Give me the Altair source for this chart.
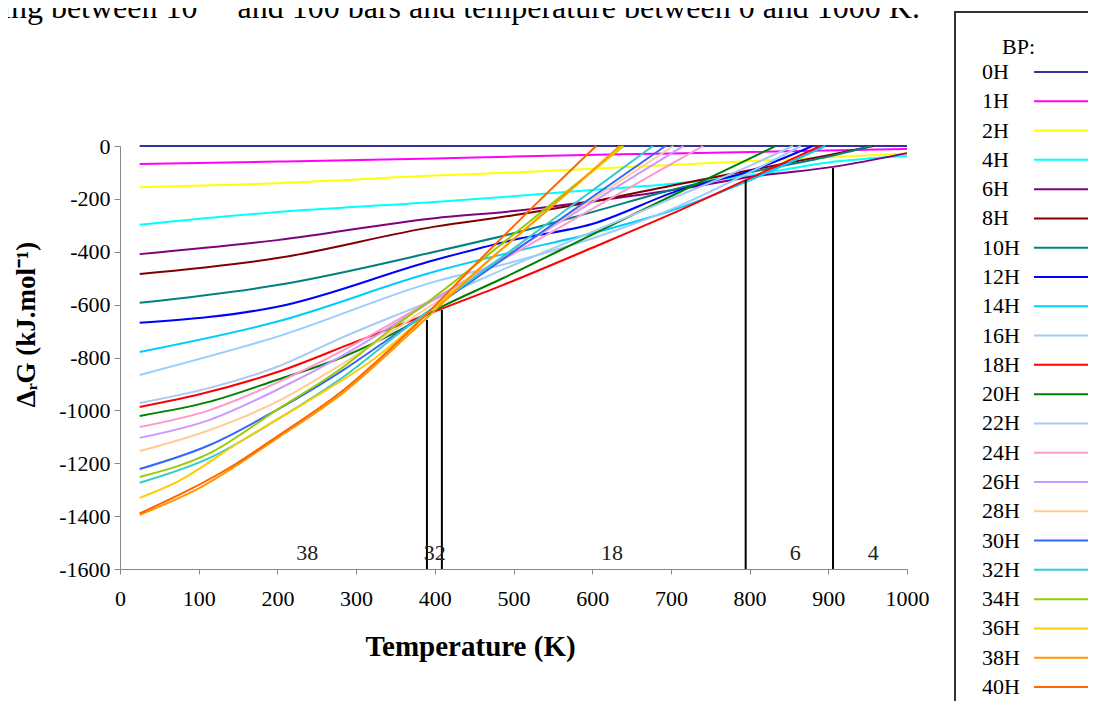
import altair as alt
import pandas as pd

# ---------------- data ----------------
SERIES = ["0H", "1H", "2H", "4H", "6H", "8H", "10H", "12H", "14H", "16H", "18H",
          "20H", "22H", "24H", "26H", "28H", "30H", "32H", "34H", "36H", "38H", "40H"]
COLORS = ["#333399", "#FF00FF", "#FFFF00", "#00FFFF", "#800080", "#800000", "#008080",
          "#0000FF", "#00CCFF", "#99CCFF", "#FF0000", "#008000", "#A6CAF0", "#FF99CC",
          "#CC99FF", "#FFCC99", "#3366FF", "#33CCCC", "#99CC00", "#FFCC00", "#FF9900", "#FF6600"]

T_0H = [25, 1000]
G_0H = [0, 0]
T_1H = [25, 200, 400, 500, 700, 1000]
G_1H = [-68, -59, -47, -40, -28, -11]
T_2H = [25, 200, 400, 500, 700, 850, 1000]
G_2H = [-156, -141, -112, -100, -72, -50, -28]
T_4H = [25, 200, 400, 500, 600, 700, 800, 900, 1000]
G_4H = [-298, -250, -212, -190, -166, -144, -112, -62, -38]
T_6H = [25, 200, 400, 500, 610, 737, 800, 906, 1000]
G_6H = [-409, -356, -273, -246, -205, -150, -117, -79, -27]
T_8H = [25, 200, 400, 500, 610, 700, 800, 900, 957]
G_8H = [-484, -424, -305, -262, -205, -150, -92, -35, 0]
T_10H = [25, 200, 400, 500, 600, 712, 800, 900, 955]
G_10H = [-593, -526, -400, -330, -250, -158, -100, -40, 0]
T_12H = [25, 200, 400, 500, 600, 712, 800, 880]
G_12H = [-669, -608, -431, -355, -295, -166, -95, 0]
T_14H = [25, 200, 400, 500, 600, 700, 800, 896]
G_14H = [-779, -664, -475, -400, -330, -245, -130, 0]
T_16H = [25, 200, 400, 500, 600, 700, 800, 865]
G_16H = [-866, -721, -513, -438, -350, -240, -100, 0]
T_18H = [25, 100, 200, 300, 411, 483, 600, 700, 795, 890]
G_18H = [-987, -940, -855, -740, -613, -530, -385, -258, -129, 0]
T_20H = [25, 114, 199, 284, 350, 411, 483, 600, 700, 800, 833]
G_20H = [-1021, -967, -885, -797, -705, -605, -505, -335, -190, -48, 0]
T_22H = [25, 114, 199, 284, 400, 500, 600, 700, 800, 855]
G_22H = [-972, -915, -836, -722, -580, -450, -325, -200, -75, 0]
T_24H = [25, 114, 199, 284, 400, 500, 600, 700, 741]
G_24H = [-1063, -999, -896, -772, -576, -407, -238, -69, 0]
T_26H = [25, 114, 199, 284, 400, 500, 600, 716]
G_26H = [-1104, -1036, -923, -791, -579, -396, -212, 0]
T_28H = [25, 114, 199, 284, 400, 500, 600, 703]
G_28H = [-1154, -1074, -968, -821, -594, -398, -202, 0]
T_30H = [25, 114, 199, 284, 334, 400, 500, 600, 693]
G_30H = [-1222, -1131, -999, -847, -745, -608, -400, -193, 0]
T_32H = [25, 114, 199, 284, 360, 400, 500, 600, 677]
G_32H = [-1274, -1180, -1036, -873, -696, -608, -388, -169, 0]
T_34H = [25, 114, 199, 284, 343, 400, 500, 600, 640]
G_34H = [-1252, -1162, -999, -835, -696, -570, -335, -95, 0]
T_36H = [25, 72, 156, 241, 326, 400, 500, 600, 638]
G_36H = [-1331, -1271, -1112, -961, -798, -609, -353, -97, 0]
T_38H = [25, 100, 200, 285, 370, 460, 550, 635]
G_38H = [-1395, -1295, -1105, -930, -705, -455, -225, 0]
T_40H = [25, 149, 199, 284, 369, 457, 530, 605]
G_40H = [-1390, -1199, -1100, -923, -696, -431, -215, 0]

SERIES_T = [T_0H, T_1H, T_2H, T_4H, T_6H, T_8H, T_10H, T_12H, T_14H, T_16H, T_18H,
            T_20H, T_22H, T_24H, T_26H, T_28H, T_30H, T_32H, T_34H, T_36H, T_38H, T_40H]
SERIES_G = [G_0H, G_1H, G_2H, G_4H, G_6H, G_8H, G_10H, G_12H, G_14H, G_16H, G_18H,
            G_20H, G_22H, G_24H, G_26H, G_28H, G_30H, G_32H, G_34H, G_36H, G_38H, G_40H]

BOUND_T = [390, 409, 795, 906]
BOUND_TOP = [-658, -620, -129, -83]
BOUND_BOTTOM = -1600

REGION_LABELS = ["38", "32", "18", "6", "4"]
REGION_T = [238, 400, 625, 858, 957]
REGION_G = -1540

X_TICKS = [0, 100, 200, 300, 400, 500, 600, 700, 800, 900, 1000]
Y_TICKS = [0, -200, -400, -600, -800, -1000, -1200, -1400, -1600]

TOP_TEXT = "ing between 10\u00a0\u00a0\u00a0\u00a0\u00a0and 100 bars and temperature between 0 and 1000 K."
LEGEND_TITLE = "BP:"

# ---------------- tables ----------------
rows = []
for k, (name, ts, gs) in enumerate(zip(SERIES, SERIES_T, SERIES_G)):
    for i, (t, g) in enumerate(zip(ts, gs)):
        rows.append({"series": name, "T": t, "G": g, "order": i, "k": k})
lines_df = pd.DataFrame(rows)

bounds_df = pd.DataFrame({"T": BOUND_T, "G": BOUND_TOP, "G2": [BOUND_BOTTOM] * len(BOUND_T)})
regions_df = pd.DataFrame({"T": REGION_T, "G": [REGION_G] * len(REGION_T), "label": REGION_LABELS})
legend_df = pd.DataFrame({"series": SERIES})

FONT = "Liberation Serif"

color = alt.Color("series:N", scale=alt.Scale(domain=SERIES, range=COLORS), legend=None)

x_enc = alt.X("T:Q", scale=alt.Scale(domain=[0, 1000], nice=False, zero=False),
              axis=alt.Axis(values=X_TICKS, title="Temperature (K)", grid=False,
                            tickSize=5, labelPadding=14, labelFontSize=22, labelFont=FONT,
                            labelColor="black", domainColor="#888888", tickColor="#888888",
                            labelExpr="'' + datum.value",
                            titleFont=FONT, titleFontSize=29, titleFontWeight="bold",
                            titleColor="black", titleX=350, titleY=77, titleBaseline="middle",
                            labelFlush=False))
y_enc = alt.Y("G:Q", scale=alt.Scale(domain=[-1600, 0], nice=False, zero=False),
              axis=alt.Axis(values=Y_TICKS, title="ΔᵣG (kJ.mol⁻¹)", grid=False,
                            tickSize=6, labelPadding=4, labelFontSize=22, labelFont=FONT,
                            labelColor="black", domainColor="#888888", tickColor="#888888",
                            labelExpr="'' + datum.value",
                            titleFont=FONT, titleFontSize=27, titleFontWeight="bold",
                            titleColor="black", titleX=-80, titleY=178, labelFlush=False))

lines = alt.Chart(lines_df).mark_line(strokeWidth=2, interpolate="monotone").encode(
    x=x_enc, y=y_enc, color=color, detail="series:N", order="order:Q")

vrules = alt.Chart(bounds_df).mark_rule(color="black", strokeWidth=2).encode(
    x=x_enc, y=y_enc, y2="G2:Q")

regions = alt.Chart(regions_df).mark_text(font=FONT, fontSize=22, color="#222222",
                                          baseline="middle", align="center").encode(
    x=x_enc, y=y_enc, text="label:N")

main = alt.layer(lines, vrules, regions)

leg_y = alt.Y("series:N", sort=SERIES, axis=None,
              scale=alt.Scale(type="point", range=[-74, 541], padding=0))
leg_text = alt.Chart(legend_df).mark_text(font=FONT, fontSize=22, color="black",
                                          align="left", baseline="middle").encode(
    x=alt.value(862), y=leg_y, text="series:N")
leg_rule = alt.Chart(legend_df).mark_rule(strokeWidth=2).encode(
    x=alt.value(914), x2=alt.value(972), y=leg_y, color=color)
legend = alt.layer(leg_text, leg_rule)

box = alt.Chart(alt.Data(values=[{"t": LEGEND_TITLE}])).mark_rect(
    fill=None, fillOpacity=0, stroke="#333333", strokeWidth=2).encode(
    x=alt.value(835), x2=alt.value(1200), y=alt.value(-134), y2=alt.value(800))
bp = alt.Chart(alt.Data(values=[{"t": LEGEND_TITLE}])).mark_text(
    font=FONT, fontSize=22, color="black", align="left", baseline="middle").encode(
    x=alt.value(882), y=alt.value(-99), text="t:N")
top = alt.Chart(alt.Data(values=[{"t": TOP_TEXT}])).mark_text(
    font=FONT, fontSize=32, color="black", align="left", baseline="alphabetic").encode(
    x=alt.value(-118), y=alt.value(-128), text="t:N")
extras = alt.layer(box, bp, top)

chart = alt.layer(main, legend, extras).resolve_scale(
    x="independent", y="independent"
).properties(
    width=787, height=423,
    autosize=alt.AutoSizeParams(type="none"),
    padding={"left": 112, "top": 138, "right": 181, "bottom": 132},
).configure_view(stroke=None).configure_axis(domainWidth=1, tickWidth=1)

chart.save("out.html", embed_options={"renderer": "svg", "actions": False})
